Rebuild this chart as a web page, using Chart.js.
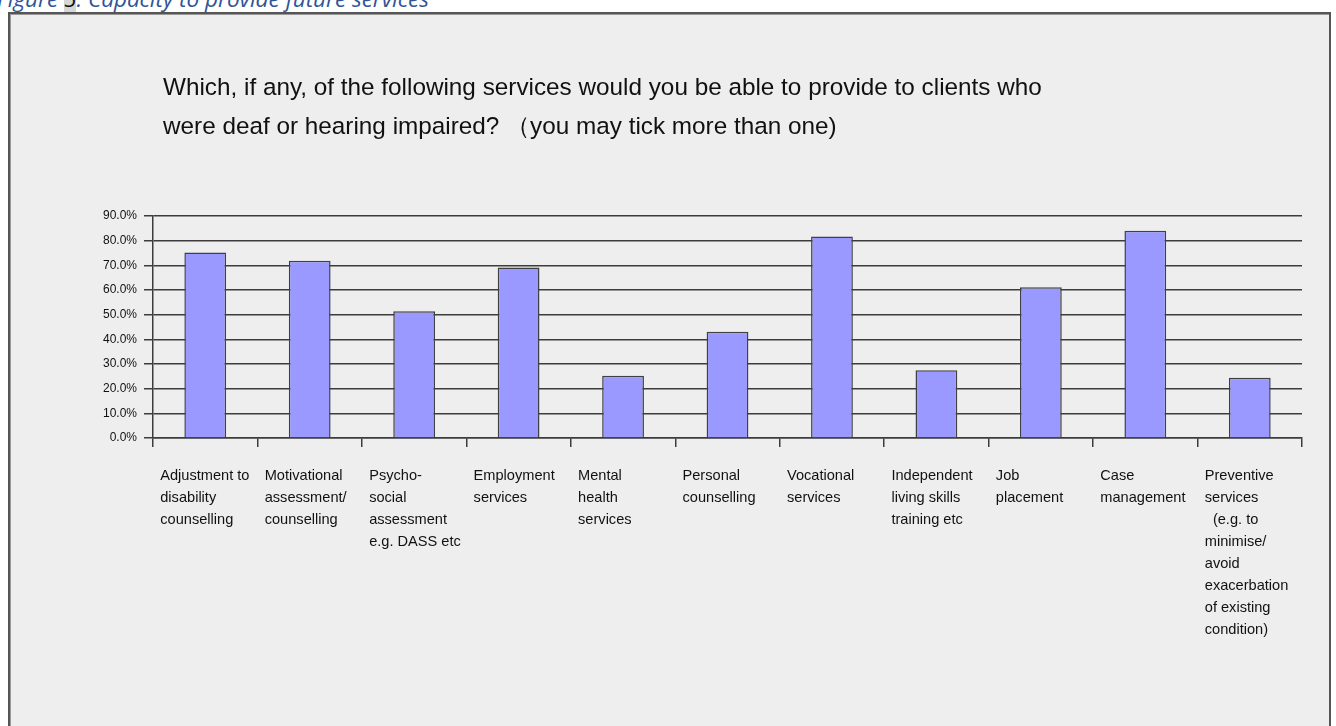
<!DOCTYPE html>
<html>
<head>
<meta charset="utf-8">
<title>Capacity to provide future services</title>
<script src="https://cdn.jsdelivr.net/npm/chart.js@4.4.1/dist/chart.umd.min.js"></script>
<style>
  html, body { margin: 0; padding: 0; background: #fff; }
  body { width: 1336px; height: 726px; position: relative; overflow: hidden; }
  .caption {
    position: absolute; left: -3px; top: -12px;
    font-family: "Open Sans", "Noto Sans", sans-serif;
    font-style: italic; font-size: 22.5px; line-height: 22.5px;
    color: #2f5597; white-space: nowrap;
  }
  .caption .num { background: #d6d6d6; color: #111; }
  .frame {
    position: absolute; left: 8px; top: 12px; width: 1319px; height: 730px;
    background: #eeeeee; border: 2px solid #555;
    box-shadow: inset 1px 1px 0 #9a9a9a;
  }
  .frame canvas { display: block; }
</style>
</head>
<body>
<div class="caption">Figure <span class="num">5</span>: Capacity to provide future services</div>
<div class="frame">
  <div style="position:relative;width:1319px;height:712px;">
    <canvas id="servicesChart"></canvas>
  </div>
</div>
<script>
// Services respondents could offer to deaf / hearing impaired clients
const serviceLabels = [
  ["Adjustment to", "disability", "counselling"],
  ["Motivational", "assessment/", "counselling"],
  ["Psycho-", "social", "assessment", "e.g. DASS etc"],
  ["Employment", "services"],
  ["Mental", "health", "services"],
  ["Personal", "counselling"],
  ["Vocational", "services"],
  ["Independent", "living skills", "training etc"],
  ["Job", "placement"],
  ["Case", "management"],
  ["Preventive", "services", "  (e.g. to", "minimise/", "avoid", "exacerbation", "of existing", "condition)"]
];
const percentAble = [75.2, 71.9, 51.4, 69.1, 25.2, 43.1, 81.7, 27.5, 61.1, 84.0, 24.4];
const yTicks = [0, 10, 20, 30, 40, 50, 60, 70, 80, 90];

const titleLines = [
  "Which, if any, of the following services would you be able to provide to clients who",
  "were deaf or hearing impaired? （you may tick more than one)"
];

Chart.defaults.font.family = '"Liberation Sans", Arial, sans-serif';
Chart.defaults.color = "#111";

const lineColor = "#3c3c3c";

// question text sits a little to the right of the value axis
const questionTitle = {
  id: "questionTitle",
  afterDraw(chart, args, opts) {
    const ctx = chart.ctx;
    ctx.save();
    ctx.font = opts.size + 'px "Liberation Sans", Arial, sans-serif';
    ctx.fillStyle = "#111";
    ctx.textBaseline = "middle";
    ctx.textAlign = "left";
    opts.lines.forEach((line, i) => {
      ctx.fillText(line, chart.chartArea.left + opts.indent, opts.top + i * opts.lineHeight);
    });
    ctx.restore();
  }
};

new Chart(document.getElementById("servicesChart").getContext("2d"), {
  type: "bar",
  data: {
    labels: serviceLabels,
    datasets: [{
      data: percentAble,
      backgroundColor: "#9999ff",
      borderColor: "#404040",
      borderWidth: 1.5,
      barPercentage: 0.4,
      categoryPercentage: 1.0
    }]
  },
  options: {
    responsive: true,
    maintainAspectRatio: false,
    animation: false,
    layout: { padding: { left: 86, right: 27, top: 202, bottom: 67 } },
    plugins: {
      legend: { display: false },
      tooltip: { enabled: false },
      title: { display: false },
      questionTitle: { lines: titleLines, size: 24.3, indent: 10, top: 74, lineHeight: 39 }
    },
    scales: {
      x: {
        afterFit: (scale) => {
          scale.paddingLeft = 0;
          scale.paddingRight = 0;
        },
        grid: {
          offset: true,
          drawOnChartArea: false,
          drawTicks: true,
          tickLength: 9,
          color: lineColor,
          lineWidth: 1.5
        },
        border: { color: lineColor, width: 1.5 },
        ticks: {
          autoSkip: false,
          maxRotation: 0,
          minRotation: 0,
          align: "start",
          labelOffset: -45,
          padding: 18,
          color: "#111",
          font: { size: 14.6, lineHeight: 22 / 14.6 }
        }
      },
      y: {
        min: 0,
        max: 90,
        afterBuildTicks: (scale) => {
          scale.ticks = yTicks.map((v) => ({ value: v }));
        },
        grid: {
          color: lineColor,
          lineWidth: 1.5,
          tickLength: 9
        },
        border: { color: lineColor, width: 1.5 },
        ticks: {
          padding: 7,
          color: "#111",
          font: { size: 12 },
          callback: (v) => Number(v).toFixed(1) + "%"
        }
      }
    }
  },
  plugins: [questionTitle]
});
</script>
</body>
</html>
